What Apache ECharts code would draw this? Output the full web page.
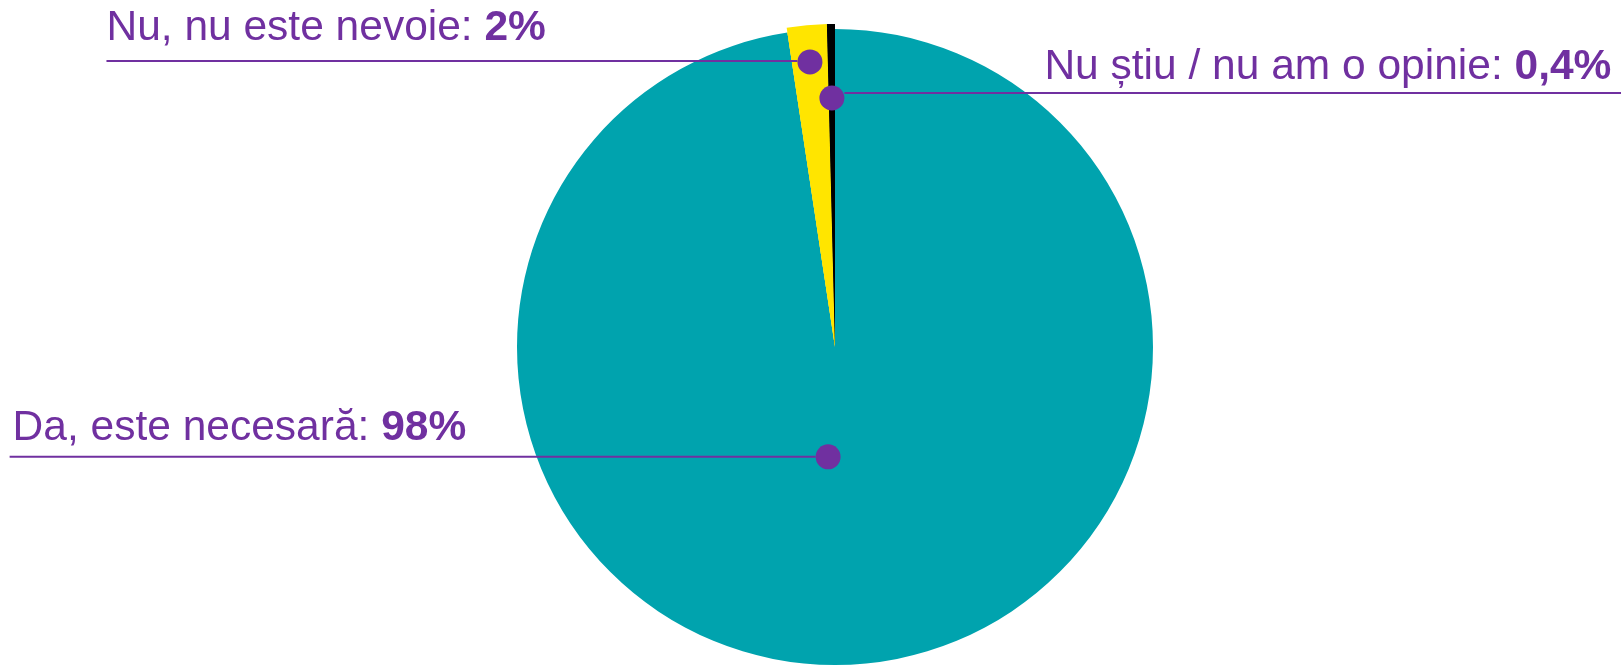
<!DOCTYPE html>
<html>
<head>
<meta charset="utf-8">
<title>Pie</title>
<script src="https://cdn.jsdelivr.net/npm/echarts@6/dist/echarts.min.js"></script>
<style>
    html, body { margin: 0; padding: 0; background: #fff; }
    #chart { width: 1621px; height: 666px; }
</style>
</head>
<body>
<div id="chart"></div>
<script>
// 数据
const categories = ['Da, este necesară', 'Nu, nu este nevoie', 'Nu știu / nu am o opinie'];
const values = [98, 2, 0.4];
const valueLabels = ['98%', '2%', '0,4%'];
const colors = ['#00a3ae', '#ffe500', '#000000'];

const PURPLE = '#7030a0';
const FONT = '"Liberation Sans", Arial, sans-serif';
const FONT_SIZE = 42.5;
const CENTER = [835, 347];
const RADIUS = 318;
const DOT = 25;

// dot on each slice: [share of radius, shift along the circle in value units]
const markerAt = [[0.346, 2.2], [0.9, 0], [0.783, 0]];
// label layout for each slice (side of the dot, underline width, text line height, gap before text)
const labelStyle = [
    { side: 'left', bar: 806, lh: 56, gap: 3, dy: 1 },
    { side: 'left', bar: 691, lh: 64, gap: 0, dy: 0 },
    { side: 'right', bar: 800, lh: 50, gap: 200, dy: -4 }
];

const total = values.reduce((a, b) => a + b, 0);

function markerData() {
    let start = 0;
    return values.map((v, i) => {
        const angle = start + v / 2 + markerAt[i][1];
        start += v;
        const st = labelStyle[i];
        // position is counted from the top-left of the dot
        const px = st.side === 'left' ? -st.bar : DOT;
        return {
            value: [markerAt[i][0], angle],
            label: {
                position: [px, DOT / 2],
                align: 'left',
                verticalAlign: 'bottom',
                offset: [0, st.dy],
                rich: {
                    sp: { width: st.gap, lineHeight: st.lh },
                    t: { fontSize: FONT_SIZE, fontFamily: FONT, color: PURPLE, lineHeight: st.lh },
                    b: { fontSize: FONT_SIZE, fontFamily: FONT, color: PURPLE, fontWeight: 'bold', lineHeight: st.lh },
                    u: { width: st.bar, height: 2, lineHeight: 2, backgroundColor: PURPLE }
                }
            }
        };
    });
}

function pieData(showIndex) {
    return categories.map((name, i) => ({
        name: name,
        value: values[i],
        itemStyle: { color: showIndex(i) ? colors[i] : 'transparent' }
    }));
}

function initChart() {
    const chart = echarts.init(document.getElementById('chart'));
    chart.setOption({
        backgroundColor: '#fff',
        animation: false,
        polar: { center: CENTER, radius: RADIUS },
        angleAxis: { type: 'value', min: 0, max: total, startAngle: 90, clockwise: true, show: false },
        radiusAxis: { type: 'value', min: 0, max: 1, show: false },
        series: [
            {
                type: 'pie', center: CENTER, radius: RADIUS, startAngle: 90, clockwise: true,
                silent: true, label: { show: false }, labelLine: { show: false },
                itemStyle: { borderWidth: 0 },
                data: pieData(() => true)
            },
            {
                // the two small slices stand a little out of the circle
                type: 'pie', center: CENTER, radius: RADIUS + 5, startAngle: 90, clockwise: true,
                silent: true, label: { show: false }, labelLine: { show: false },
                itemStyle: { borderWidth: 0 },
                data: pieData(i => i > 0)
            },
            {
                type: 'scatter', coordinateSystem: 'polar', symbol: 'circle', symbolSize: DOT,
                itemStyle: { color: PURPLE, opacity: 1 },
                label: {
                    show: true,
                    formatter: p => {
                        const i = p.dataIndex;
                        const sp = labelStyle[i].gap ? '{sp|}' : '';
                        return sp + '{t|' + categories[i] + ': }{b|' + valueLabels[i] + '}\n{u|}';
                    }
                },
                data: markerData()
            }
        ]
    });
}

initChart();
</script>
</body>
</html>
